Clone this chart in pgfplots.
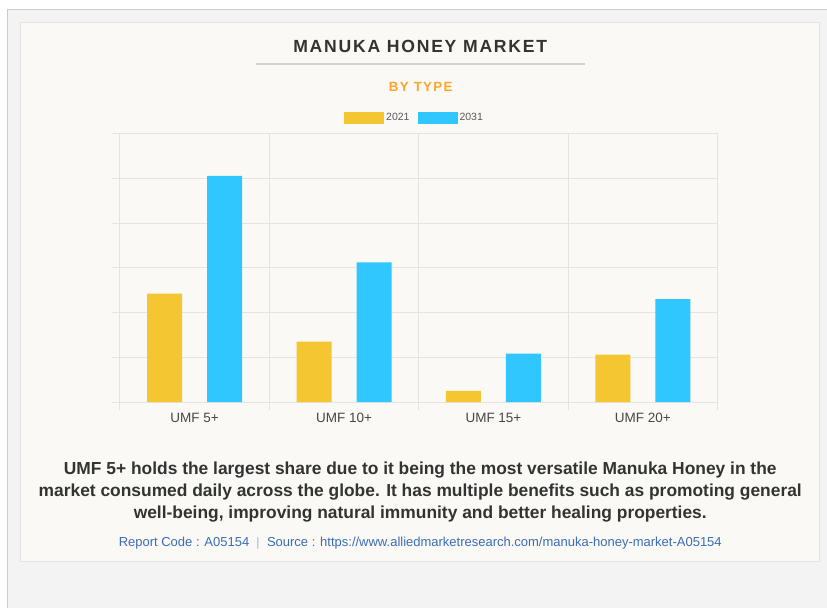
\documentclass[border=0pt]{standalone}
\usepackage{pgfplots}
\pgfplotsset{compat=1.18}
\usepackage{fontspec}
\setmainfont{Liberation Sans}
\definecolor{cyel}{HTML}{F4C631}
\definecolor{cblue}{HTML}{30C6FF}
\definecolor{panel}{HTML}{FAF9F5}
\definecolor{outer}{HTML}{F3F3F3}
\definecolor{gridc}{HTML}{E4E4E2}
\definecolor{titlec}{HTML}{333333}
\definecolor{orangec}{HTML}{FBA628}
\definecolor{srcc}{HTML}{3A6DB5}
\begin{document}
\begin{tikzpicture}
% backgrounds (image 827x608, origin bottom-left, 1px = 1pt)
\fill[white] (0pt,0pt) rectangle (827pt,608pt);
\fill[outer] (8pt,0pt) rectangle (827pt,598pt);
\draw[gray!40,line width=1pt] (8pt,0pt) -- (8pt,598pt) -- (827pt,598pt);
\fill[panel,draw=gridc,line width=0.8pt] (20pt,46pt) rectangle (820pt,586pt);
% titles
\node[font=\fontsize{17.6}{20}\selectfont\bfseries\addfontfeatures{LetterSpace=10},text=titlec] at (420.5pt,562pt) {MANUKA HONEY MARKET};
\draw[gray!35,line width=1.2pt] (256pt,544pt) -- (585pt,544pt);
\node[font=\fontsize{13.3}{16}\selectfont\bfseries\addfontfeatures{LetterSpace=10},text=orangec] at (421pt,521pt) {BY TYPE};
\begin{axis}[
  at={(120pt,205.7pt)}, anchor=south west,
  scale only axis, width=598pt, height=268.8pt,
  ymin=0, ymax=6, xmin=-0.5, xmax=3.5,
  axis line style={draw=none},
  ytick={0,1,2,3,4,5,6}, yticklabels={},
  xtick={-0.5,0.5,1.5,2.5,3.5}, xticklabels={},
  grid=major, grid style={gridc, line width=0.9pt},
  tick style={gridc, line width=0.9pt},
  tick align=outside, tick pos=left, major tick length=8pt,
  extra x ticks={0,1,2,3},
  extra x tick labels={UMF 5+,UMF 10+,UMF 15+,UMF 20+},
  extra x tick style={major tick length=0pt, grid=none,
    xticklabel style={anchor=center, yshift=-16pt, text height=10pt, text depth=2pt}},
  ticklabel style={font=\fontsize{13.5}{16}\selectfont, text=black!72},
  ybar, bar width=35pt,
  legend columns=2,
  legend style={draw=none, fill=none, at={(0.493,1)}, anchor=center, yshift=15.5pt,
    font=\fontsize{10.5}{12}\selectfont, text=black!65,
    /tikz/every even column/.append style={column sep=6pt}},
  legend image code/.code={\fill[#1] (0pt,-6pt) rectangle (40pt,6pt);},
]
\addplot[fill=cyel, draw=none, bar shift=-30pt] coordinates {(0,2.42) (1,1.35) (2,0.25) (3,1.06)};
\addplot[fill=cblue, draw=none, bar shift=30pt] coordinates {(0,5.05) (1,3.12) (2,1.08) (3,2.30)};
\legend{2021,2031}
\end{axis}
\node[font=\fontsize{17.4}{22}\selectfont\bfseries, text=titlec, align=center] at (420.5pt,115.5pt)
 {UMF 5+ holds the largest share due to it being the most versatile Manuka Honey in the\\
  market consumed daily across the globe. It has multiple benefits such as promoting general\\
  well-being, improving natural immunity and better healing properties.};
\node[font=\fontsize{13}{15}\selectfont, text=srcc] at (420.5pt,64.5pt)
 {Report Code : A05154 \ $|$ \ Source : https://www.alliedmarketresearch.com/manuka-honey-market-A05154};
\end{tikzpicture}
\end{document}
